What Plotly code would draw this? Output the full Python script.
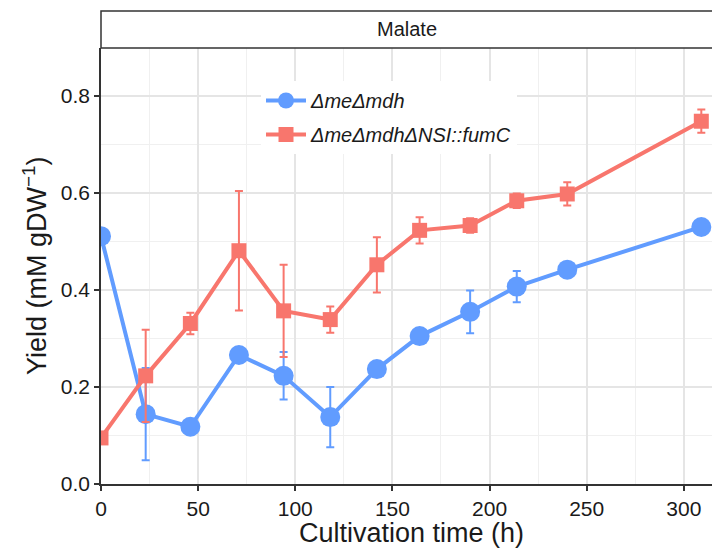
import plotly.graph_objects as go

time_h = [0, 23, 46, 71, 94, 118, 142, 164, 190, 214, 240, 309]

blue_name = "<i>ΔmeΔmdh</i>"
blue_yield = [0.511, 0.144, 0.118, 0.266, 0.223, 0.138, 0.237, 0.305, 0.355, 0.407, 0.442, 0.530]
blue_err = [0.0, 0.095, 0.0, 0.0, 0.049, 0.062, 0.0, 0.0, 0.044, 0.032, 0.0, 0.0]

red_name = "<i>ΔmeΔmdhΔNSI::fumC</i>"
red_yield = [0.095, 0.223, 0.331, 0.481, 0.357, 0.339, 0.452, 0.523, 0.533, 0.584, 0.598, 0.748]
red_err = [0.0, 0.095, 0.022, 0.123, 0.095, 0.027, 0.057, 0.027, 0.015, 0.015, 0.024, 0.024]

panel_label = "Malate"
x_title = "Cultivation time (h)"
y_title = "Yield (mM gDW<sup>−1</sup>)"

BLUE = "#619CFF"
RED = "#F8766D"
FONT = "Liberation Sans, Arial, sans-serif"
TXT = "#1a1a1a"

L, R, T, B = 101, 0, 48, 66
W, H = 712, 550
PW, PH = W - L - R, H - T - B

fig = go.Figure()
fig.add_trace(go.Scatter(
    x=time_h, y=blue_yield, name=blue_name, mode="lines+markers", legendgroup="a",
    line=dict(color=BLUE, width=4),
    marker=dict(color=BLUE, size=20, symbol="circle"),
    error_y=dict(type="data", array=blue_err, visible=True, color=BLUE, thickness=2, width=4),
))
fig.add_trace(go.Scatter(
    x=time_h, y=red_yield, name=red_name, mode="lines+markers", legendgroup="b",
    line=dict(color=RED, width=4),
    marker=dict(color=RED, size=15, symbol="square"),
    error_y=dict(type="data", array=red_err, visible=True, color=RED, thickness=2, width=4),
))

strip_h = 37 / PH
fig.add_shape(type="rect", xref="paper", yref="paper", x0=0, x1=1.01, y0=1, y1=1 + strip_h,
              line=dict(color="#333333", width=1.5), fillcolor="white", layer="above")
fig.add_annotation(text=panel_label, xref="paper", yref="paper", x=0.5, y=1 + strip_h / 2,
                   showarrow=False, font=dict(size=20, color=TXT, family=FONT),
                   xanchor="center", yanchor="middle")
# axis titles
fig.add_annotation(text=x_title, xref="paper", yref="paper", x=(411 - L) / PW, y=-(533 - (T + PH)) / PH,
                   showarrow=False, font=dict(size=27, color=TXT, family=FONT),
                   xanchor="center", yanchor="middle")
fig.add_annotation(text=y_title, xref="paper", yref="paper", x=-(L - 35) / PW, y=(T + PH - 266) / PH,
                   showarrow=False, font=dict(size=27, color=TXT, family=FONT), textangle=-90,
                   xanchor="center", yanchor="middle")

fig.update_layout(
    width=W, height=H,
    margin=dict(l=L, r=R, t=T, b=B, autoexpand=False),
    paper_bgcolor="white", plot_bgcolor="white",
    font=dict(family=FONT, color="black"),
    showlegend=True,
    legend=dict(x=(261 - L) / PW, y=(T + PH - 81) / PH, xanchor="left", yanchor="top",
                bgcolor="white", font=dict(size=20, color=TXT),
                traceorder="grouped", tracegroupgap=5, itemwidth=40),
)
fig.update_xaxes(
    range=[0, 314.5], tickvals=[0, 50, 100, 150, 200, 250, 300],
    showgrid=True, gridcolor="#E5E5E5", gridwidth=1.5,
    minor=dict(tickvals=[25, 75, 125, 175, 225, 275], showgrid=True, gridcolor="#F0F0F0", gridwidth=1),
    showline=True, linecolor="#333333", linewidth=1.5,
    ticks="outside", ticklen=5, tickcolor="#333333", tickwidth=1.5,
    tickfont=dict(size=21, color=TXT), automargin=False,
    zeroline=False,
)
fig.update_yaxes(
    range=[0, 0.899], tickvals=[0, 0.2, 0.4, 0.6, 0.8], ticktext=["0.0", "0.2", "0.4", "0.6", "0.8"],
    showgrid=True, gridcolor="#E5E5E5", gridwidth=1.5,
    minor=dict(tickvals=[0.1, 0.3, 0.5, 0.7], showgrid=True, gridcolor="#F0F0F0", gridwidth=1),
    showline=True, linecolor="#333333", linewidth=1.5,
    ticks="outside", ticklen=5, tickcolor="#333333", tickwidth=1.5,
    tickfont=dict(size=21, color=TXT), automargin=False,
    zeroline=False,
)

fig.write_html("out.html", config={"displayModeBar": False},
               post_script="document.body.style.margin='0px';")
